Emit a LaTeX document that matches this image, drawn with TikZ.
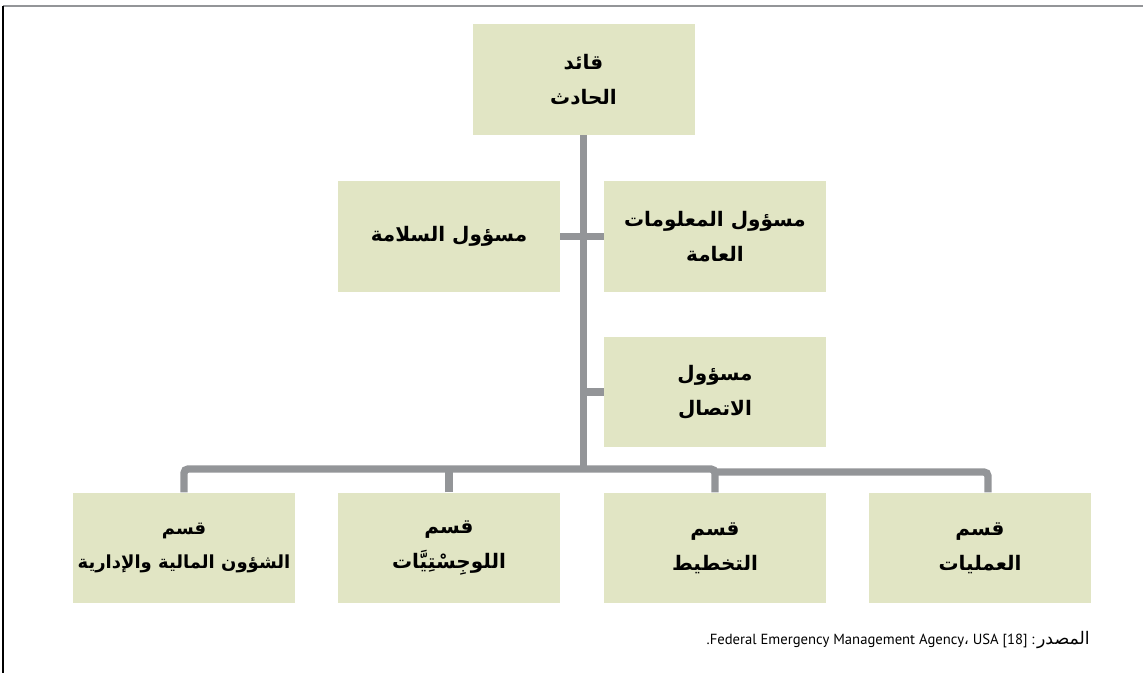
\documentclass[tikz,border=0pt]{standalone}
\usepackage{fontspec}
\TeXXeTstate=1
\newfontfamily\arabicfont[Script=Arabic]{DejaVu Sans}
\newfontfamily\srcfont{PT Sans}
\definecolor{boxfill}{RGB}{225,229,196}
\definecolor{linegray}{RGB}{147,149,152}
\tikzset{
  orgbox/.style={fill=boxfill, draw=none, minimum width=166.5pt, minimum height=83pt, inner sep=0pt,
    align=center, font=\arabicfont\bfseries\fontsize{15}{26}\selectfont},
  conn/.style={draw=linegray, line width=5.5pt},
}
\begin{document}
\begin{tikzpicture}[x=0.75pt,y=-0.75pt]
\useasboundingbox (0,0) rectangle (1143,673);
% frame
\draw[linegray, line width=1.5pt] (3,6) -- (1143,6);
\draw[black, line width=1pt] (3,6) -- (3,673);

% boxes
\node[orgbox] (top) at (583.5,79.5) {\beginR قائد\endR\\\beginR الحادث\endR};
\node[orgbox] (safety) at (449,236.5) {\beginR مسؤول السلامة\endR};
\node[orgbox] (pub) at (715,236.5) {\beginR مسؤول المعلومات\endR\\\beginR العامة\endR};
\node[orgbox] (comm) at (715,392) {\beginR مسؤول\endR\\\beginR الاتصال\endR};
\node[orgbox, font=\arabicfont\bfseries\fontsize{13.5}{26}\selectfont] (fin) at (184,548) {\beginR قسم\endR\\\beginR الشؤون المالية والإدارية\endR};
\node[orgbox] (log) at (449,548) {\beginR قسم\endR\\\beginR اللوجِسْتِيَّات\endR};
\node[orgbox] (plan) at (715,548) {\beginR قسم\endR\\\beginR التخطيط\endR};
\node[orgbox] (ops) at (980,548) {\beginR قسم\endR\\\beginR العمليات\endR};
\coordinate (opsdrop) at (988,506.5);

% connectors
\draw[conn] (top.south) -- (top.south |- 0,469);
\draw[conn] (safety.east) -- (pub.west);
\draw[conn] (comm.west) -- (comm.west -| top.south);
\draw[conn, rounded corners=3pt] (fin.north) |- (plan.north |- 0,469) -- (plan.north);
\draw[conn] (log.north) -- (log.north |- 0,469);
\draw[conn, rounded corners=3pt] (plan.north |- 0,472) -| (opsdrop |- ops.north);

% source
\node[anchor=east, inner sep=0pt, font=\srcfont\fontsize{11}{13}\selectfont] (src) at (1090,640)
  {.Federal Emergency Management Agency{\arabicfont ،} USA [18] :\,{\arabicfont\fontsize{13}{15}\selectfont\beginR المصدر\endR}};
\end{tikzpicture}
\end{document}
